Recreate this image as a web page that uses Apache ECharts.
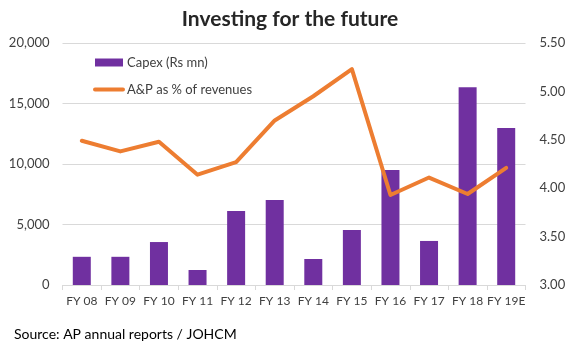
<!DOCTYPE html>
<html>
<head>
<meta charset="utf-8">
<script src="https://cdn.jsdelivr.net/npm/echarts@6/dist/echarts.min.js"></script>
<style>
  html, body { margin: 0; padding: 0; background: #fff; }
  #chart { width: 572px; height: 349px; }
</style>
</head>
<body>
<div id="chart"></div>
<script>
// Fiscal years on the category axis
const years = ['FY 08', 'FY 09', 'FY 10', 'FY 11', 'FY 12', 'FY 13', 'FY 14', 'FY 15', 'FY 16', 'FY 17', 'FY 18', 'FY 19E'];
// Capital expenditure, Rs mn (left axis)
const capex = [2330, 2330, 3550, 1240, 6110, 7030, 2150, 4550, 9500, 3640, 16350, 12980];
// Advertising & promotion spend as % of revenues (right axis)
const adPromo = [4.49, 4.38, 4.48, 4.14, 4.27, 4.70, 4.95, 5.23, 3.93, 4.11, 3.94, 4.21];

const FONT = 'Lato, "Open Sans", sans-serif';
const GRID_GREY = '#D9D9D9';
const LABEL_GREY = '#404040';

const chart = echarts.init(document.getElementById('chart'), null, { renderer: 'canvas' });

chart.setOption({
  animation: false,
  textStyle: { fontFamily: FONT },
  title: [
    {
      text: 'Investing for the future',
      left: 285, top: 4, textAlign: 'center',
      textStyle: { fontFamily: FONT, fontSize: 21, fontWeight: 'bold', color: '#262626' }
    },
    {
      text: 'Source: AP annual reports / JOHCM',
      left: 9, top: 322,
      textStyle: { fontFamily: FONT, fontSize: 14, fontWeight: 'normal', color: '#000' }
    }
  ],
  legend: {
    orient: 'vertical',
    left: 88, top: 51,
    itemWidth: 28, itemHeight: 8, itemGap: 14,
    textStyle: { fontFamily: FONT, fontSize: 13, color: LABEL_GREY, padding: [0, 0, 0, -1] },
    data: [
      { name: 'Capex (Rs mn)', icon: 'rect' },
      {
        name: 'A&P as % of revenues',
        itemStyle: { color: 'rgba(0,0,0,0)', borderWidth: 0 },
        lineStyle: { width: 4, cap: 'round' }
      }
    ]
  },
  grid: { left: 62.5, right: 46.5, top: 43, bottom: 64, containLabel: false },
  xAxis: {
    type: 'category',
    data: years,
    boundaryGap: true,
    axisLine: { lineStyle: { color: GRID_GREY, width: 1 } },
    axisTick: { show: true, alignWithLabel: false, length: 5, lineStyle: { color: GRID_GREY } },
    axisLabel: { color: LABEL_GREY, fontSize: 12, margin: 10, interval: 0 }
  },
  yAxis: [
    {
      type: 'value',
      min: 0, max: 20000, interval: 5000,
      axisLine: { show: false },
      axisTick: { show: false },
      splitLine: { lineStyle: { color: GRID_GREY, width: 1 } },
      axisLabel: {
        color: LABEL_GREY, fontSize: 13, margin: 13,
        formatter: v => v.toLocaleString('en-US')
      }
    },
    {
      type: 'value',
      min: 3, max: 5.5, interval: 0.5,
      axisLine: { show: false },
      axisTick: { show: false },
      splitLine: { show: false },
      axisLabel: {
        color: LABEL_GREY, fontSize: 13, margin: 14,
        formatter: v => v.toFixed(2)
      }
    }
  ],
  series: [
    {
      name: 'Capex (Rs mn)',
      type: 'bar',
      yAxisIndex: 0,
      data: capex,
      barWidth: 18,
      itemStyle: { color: '#7030A0' }
    },
    {
      name: 'A&P as % of revenues',
      type: 'line',
      yAxisIndex: 1,
      data: adPromo,
      symbol: 'none',
      lineStyle: { color: '#ED7D31', width: 4, cap: 'round', join: 'round' },
      itemStyle: { color: '#ED7D31' }
    }
  ]
});
</script>
</body>
</html>
